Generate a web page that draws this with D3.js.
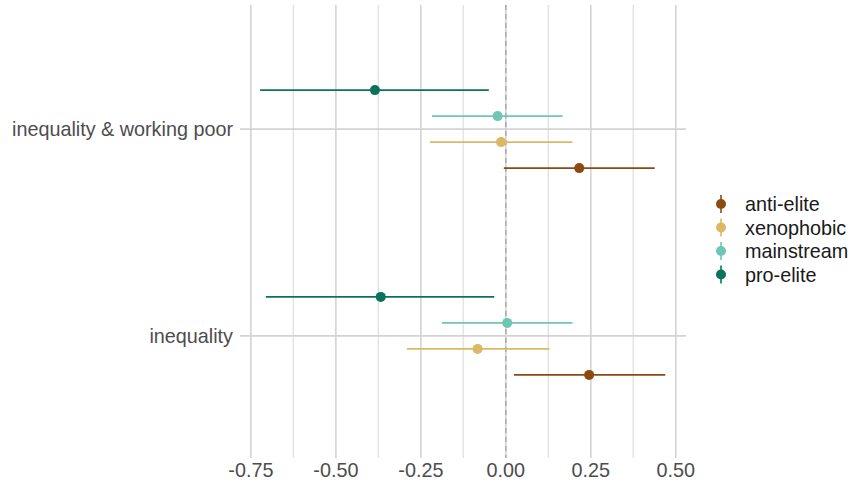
<!DOCTYPE html>
<html>
<head>
<meta charset="utf-8">
<script src="https://cdn.jsdelivr.net/npm/d3@7"></script>
<style>
  html, body { margin: 0; padding: 0; background: #ffffff; }
  svg { display: block; font-family: "Liberation Sans", Arial, sans-serif; }
</style>
</head>
<body>
<svg id="chart" width="848" height="486"></svg>
<script>
// Outcome categories (y axis, top to bottom) and party groups (legend order)
const categories = ["inequality & working poor", "inequality"];
const groups = ["anti-elite", "xenophobic", "mainstream", "pro-elite"];
const groupColors = ["#8c4a12", "#dcb866", "#70c6b4", "#0b735a"];

// Point estimates and 95% intervals, one array per group, ordered like categories
const antiElite  = { est: [0.216, 0.245],   lo: [-0.006, 0.024],  hi: [0.438, 0.469] };
const xenophobic = { est: [-0.014, -0.083], lo: [-0.223, -0.291], hi: [0.196, 0.128] };
const mainstream = { est: [-0.024, 0.004],  lo: [-0.217, -0.188], hi: [0.167, 0.196] };
const proElite   = { est: [-0.385, -0.368], lo: [-0.723, -0.706], hi: [-0.050, -0.034] };
const seriesByGroup = [antiElite, xenophobic, mainstream, proElite];

const xTicks = [-0.75, -0.5, -0.25, 0, 0.25, 0.5];
const xTickLabels = ["-0.75", "-0.50", "-0.25", "0.00", "0.25", "0.50"];
const xMinorTicks = [-0.625, -0.375, -0.125, 0.125, 0.375];

const panel = { left: 240, right: 686, top: 5, bottom: 460 };
const fontSize = 19.8;
const svg = d3.select("#chart");

const x = d3.scaleLinear().domain([-0.782, 0.530]).range([panel.left, panel.right]);
// Discrete axis with ggplot-like expansion of 0.6 on each side
const y = d3.scaleLinear().domain([0.4, 2.6]).range([panel.top, panel.bottom]);
const catPos = c => y(categories.indexOf(c) + 1);
const dodgeStep = 26 / (y(2) - y(1));

const grid = svg.append("g");
grid.selectAll("line.minor").data(xMinorTicks).join("line")
  .attr("x1", d => x(d)).attr("x2", d => x(d))
  .attr("y1", panel.top).attr("y2", panel.bottom - 2)
  .attr("stroke", "#e3e3e3").attr("stroke-width", 1.5);
grid.selectAll("line.major").data(xTicks).join("line")
  .attr("x1", d => x(d)).attr("x2", d => x(d))
  .attr("y1", panel.top).attr("y2", panel.bottom - 2)
  .attr("stroke", "#d3d3d3").attr("stroke-width", 1.6);
grid.selectAll("line.h").data(categories).join("line")
  .attr("x1", panel.left).attr("x2", panel.right)
  .attr("y1", d => catPos(d)).attr("y2", d => catPos(d))
  .attr("stroke", "#d3d3d3").attr("stroke-width", 1.6);

// Zero reference line
svg.append("line")
  .attr("x1", x(0)).attr("x2", x(0))
  .attr("y1", panel.top).attr("y2", panel.bottom - 2)
  .attr("stroke", "#a6a6a6").attr("stroke-width", 1.4)
  .attr("stroke-dasharray", "5,4");

// Point ranges, dodged: pro-elite on top, anti-elite at the bottom of each category
const rows = [];
groups.forEach((g, gi) => {
  categories.forEach((c, ci) => {
    const s = seriesByGroup[gi];
    rows.push({ group: g, color: groupColors[gi], cat: c, est: s.est[ci], lo: s.lo[ci], hi: s.hi[ci] });
  });
});
const offsets = { "pro-elite": -1.5, "mainstream": -0.5, "xenophobic": 0.5, "anti-elite": 1.5 };
const yPos = d => y(categories.indexOf(d.cat) + 1 + offsets[d.group] * dodgeStep);

const marks = svg.append("g");
marks.selectAll("line").data(rows).join("line")
  .attr("x1", d => x(d.lo)).attr("x2", d => x(d.hi))
  .attr("y1", yPos).attr("y2", yPos)
  .attr("stroke", d => d.color).attr("stroke-width", 1.6);
marks.selectAll("circle").data(rows).join("circle")
  .attr("cx", d => x(d.est)).attr("cy", yPos).attr("r", 5)
  .attr("fill", d => d.color);

// X axis labels
svg.append("g").selectAll("text").data(xTicks).join("text")
  .attr("x", d => x(d)).attr("y", 477)
  .attr("text-anchor", "middle")
  .attr("font-size", fontSize).attr("fill", "#4d4d4d")
  .text((d, i) => xTickLabels[i]);

// Y axis labels
svg.append("g").selectAll("text").data(categories).join("text")
  .attr("x", 233).attr("y", d => catPos(d) + 7)
  .attr("text-anchor", "end")
  .attr("font-size", fontSize).attr("fill", "#4d4d4d")
  .text(d => d);

// Legend
const legend = svg.append("g");
groups.forEach((g, i) => {
  const ly = 204 + i * 23.5;
  legend.append("line")
    .attr("x1", 721).attr("x2", 721).attr("y1", ly - 9).attr("y2", ly + 9)
    .attr("stroke", groupColors[i]).attr("stroke-width", 1.6);
  legend.append("circle").attr("cx", 721).attr("cy", ly).attr("r", 5).attr("fill", groupColors[i]);
  legend.append("text").attr("x", 745).attr("y", ly + 7)
    .attr("font-size", fontSize).attr("fill", "#1a1a1a").text(g);
});
</script>
</body>
</html>
